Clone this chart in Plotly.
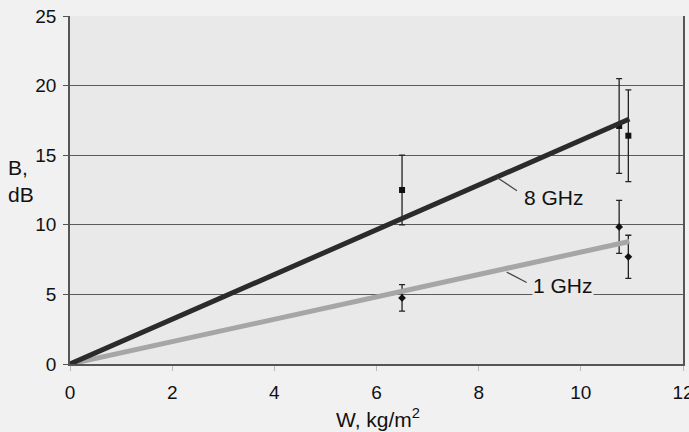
import plotly.graph_objects as go

# ---- data ----
w_points = [6.5, 10.75, 10.93]
b_8ghz = [12.5, 17.1, 16.4]
err_8ghz = [2.5, 3.4, 3.3]
b_1ghz = [4.75, 9.85, 7.7]
err_1ghz = [0.95, 1.9, 1.55]

fit_w = [0, 10.95]
fit_8ghz = [0, 17.6]
fit_1ghz = [0, 8.8]

x_ticks = [0, 2, 4, 6, 8, 10, 12]
y_ticks = [0, 5, 10, 15, 20, 25]

label_8 = {"text": "8 GHz", "x": 9.48, "y": 11.95, "lead": [8.36, 13.4, 8.75, 12.45]}
label_1 = {"text": "1 GHz", "x": 9.65, "y": 5.65, "lead": [8.55, 6.6, 8.94, 5.85]}

PLOT_BG = "#e9e9e9"
PAPER_BG = "#f1f1f1"
FONT = "Liberation Sans, Arial, Helvetica, sans-serif"

fig = go.Figure()

fig.add_trace(go.Scatter(
    x=w_points, y=b_8ghz, mode="markers",
    marker=dict(symbol="square", size=6, color="#111111"),
    error_y=dict(type="data", array=err_8ghz, visible=True, color="#222222", thickness=1.3, width=3),
    showlegend=False, hoverinfo="skip"))
fig.add_trace(go.Scatter(
    x=w_points, y=b_1ghz, mode="markers",
    marker=dict(symbol="diamond", size=6, color="#111111"),
    error_y=dict(type="data", array=err_1ghz, visible=True, color="#222222", thickness=1.3, width=3),
    showlegend=False, hoverinfo="skip"))

fig.add_trace(go.Scatter(x=fit_w, y=fit_1ghz, mode="lines",
                         line=dict(color="#a6a6a6", width=5), showlegend=False, hoverinfo="skip"))
fig.add_trace(go.Scatter(x=fit_w, y=fit_8ghz, mode="lines",
                         line=dict(color="#2b2b2b", width=5), showlegend=False, hoverinfo="skip"))

for lab in (label_8, label_1):
    x0, y0, x1, y1 = lab["lead"]
    fig.add_shape(type="line", x0=x0, y0=y0, x1=x1, y1=y1, xref="x", yref="y",
                  line=dict(color="#444444", width=1.2))
    fig.add_annotation(x=lab["x"], y=lab["y"], xref="x", yref="y", text=lab["text"],
                       showarrow=False, font=dict(size=21, color="#111111", family=FONT),
                       bgcolor=PLOT_BG if lab is label_1 else "rgba(0,0,0,0)", borderpad=0)

fig.add_annotation(x=-0.104, y=0.525, xref="paper", yref="paper", text="B,<br>dB",
                   showarrow=False, xanchor="left", yanchor="middle", align="left",
                   font=dict(size=21, color="#111111", family=FONT))
fig.add_annotation(x=0.502, y=-0.155, xref="paper", yref="paper", text="W, kg/m<sup>2</sup>",
                   showarrow=False, xanchor="center", yanchor="middle",
                   font=dict(size=21, color="#111111", family=FONT))

fig.update_xaxes(range=[0, 12], tickvals=x_ticks, ticktext=[str(t) for t in x_ticks],
                 showgrid=False, zeroline=False, showline=True, linecolor="#555555", linewidth=2,
                 ticks="outside", ticklen=5, tickcolor="#bbbbbb", ticklabelstandoff=5,
                 ticklabeloverflow="allow", automargin=False,
                 tickfont=dict(size=19, color="#111111", family=FONT))
fig.update_yaxes(range=[0, 25], tickvals=y_ticks, ticktext=[str(t) for t in y_ticks],
                 showgrid=True, gridcolor="#5a5a5a", gridwidth=1.3, zeroline=False,
                 showline=True, linecolor="#555555", linewidth=1.5, mirror=True,
                 ticks="outside", ticklen=5, tickcolor="#555555", ticklabelstandoff=3,
                 automargin=False,
                 tickfont=dict(size=19, color="#111111", family=FONT))

fig.update_layout(width=689, height=432,
                  margin=dict(l=70, r=6, t=16, b=68, autoexpand=False),
                  plot_bgcolor=PLOT_BG, paper_bgcolor=PAPER_BG,
                  font=dict(family=FONT))

fig.write_html("out.html", config={"displayModeBar": False},
               post_script="document.body.style.margin='0';document.body.style.background='#f1f1f1';")
